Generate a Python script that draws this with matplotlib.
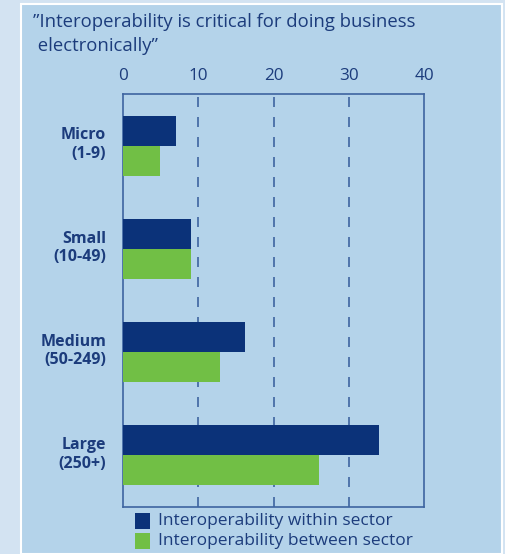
import numpy as np
import matplotlib.pyplot as plt
from matplotlib.patches import Rectangle

plt.rcParams['font.family'] = ['Open Sans', 'DejaVu Sans']

# data
categories = ['Micro\n(1-9)', 'Small\n(10-49)', 'Medium\n(50-249)', 'Large\n(250+)']
within_sector = [7.1, 9.1, 16.2, 34.0]
between_sector = [4.9, 9.1, 12.9, 26.0]
ticks = [0, 10, 20, 30, 40]
series_names = ['Interoperability within sector', 'Interoperability between sector']

navy = '#0b3279'
green = '#71bf45'
panel_bg = '#b4d3ea'
outer_bg = '#d3e3f2'
text_col = '#1c3c7c'
line_col = '#3e64a0'

W, H = 506, 554
fig = plt.figure(figsize=(W / 100, H / 100), dpi=100)
fig.patch.set_facecolor(outer_bg)

# panel with white border
fig.patches.append(Rectangle((21 / W, 0), (502 - 21) / W, 1 - 4 / H,
                             transform=fig.transFigure, facecolor=panel_bg,
                             edgecolor='white', linewidth=1.5, zorder=-5))

fig.text(33 / W, 1 - 13 / H, '\u201dInteroperability is critical for doing business\n electronically\u201d',
         color=text_col, fontsize=13.3, va='top', ha='left', linespacing=1.4)

left, right, top, bottom = 123, 424, 94, 507
ax = fig.add_axes([left / W, 1 - bottom / H, (right - left) / W, (bottom - top) / H])
ax.set_facecolor('none')
ax.set_zorder(2)

y = np.arange(len(categories))
h = 0.29
ax.barh(y - h / 2, within_sector, height=h, color=navy, zorder=3)
ax.barh(y + h / 2, between_sector, height=h, color=green, zorder=3)

ax.set_xlim(0, 40)
ax.set_ylim(3.5, -0.5)
ax.set_xticks(ticks)
ax.xaxis.tick_top()
ax.tick_params(axis='x', length=0, pad=7, labelsize=12.3, labelcolor=text_col)
ax.set_yticks(y - 0.01)
ax.set_yticklabels(categories, fontweight='bold', fontsize=11.5, color=text_col,
                   linespacing=1.2)
ax.tick_params(axis='y', length=0, pad=12)
for lbl in ax.get_yticklabels():
    lbl.set_va('center')

for t in ticks[1:-1]:
    ax.axvline(t, color=line_col, linestyle=(0, (6, 6)), linewidth=1.2, zorder=1)

for sp in ax.spines.values():
    sp.set_color(line_col)
    sp.set_linewidth(1.2)

# legend
leg_items = [(navy, series_names[0], 521), (green, series_names[1], 541)]
for col, name, yy in leg_items:
    fig.patches.append(Rectangle((135 / W, 1 - (yy + 8) / H), 15 / W, 16 / H,
                                 transform=fig.transFigure, facecolor=col,
                                 edgecolor='none'))
    fig.text(158 / W, 1 - yy / H, name, color=text_col, fontsize=12.5,
             va='center', ha='left')

fig.savefig('out.png', dpi=100, facecolor=fig.get_facecolor())
